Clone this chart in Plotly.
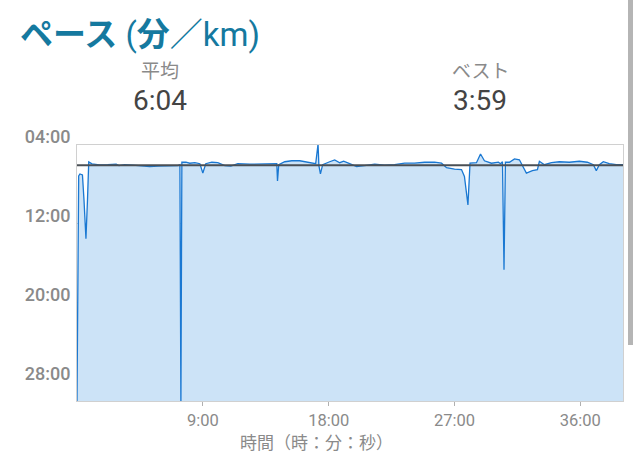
import plotly.graph_objects as go

# elapsed time (minutes) and pace (minutes per km)
time_min = [0.0, 0.12, 0.21, 0.39, 0.5, 0.64, 0.75, 0.84, 1.07, 1.6, 2.2, 2.8, 3.0, 3.4, 4.0, 4.6,
            5.2, 5.8, 6.4, 7.0, 7.21, 7.36, 7.43, 7.5, 7.79, 8.07, 8.43, 8.79, 9.0, 9.21, 9.64,
            10.07, 10.57, 11.0, 11.5, 12.36, 13.21, 14.14, 14.29, 14.34, 14.43, 14.86, 15.36,
            15.93, 16.64, 17.07, 17.24, 17.3, 17.41, 17.57, 18.07, 18.43, 18.79, 19.07, 19.5,
            20.0, 20.57, 21.29, 22.0, 22.71, 23.43, 24.14, 24.86, 25.57, 26.07, 26.43, 27.0,
            27.5, 27.71, 27.96, 28.11, 28.57, 28.86, 29.14, 29.64, 30.14, 30.29, 30.43, 30.54,
            30.64, 30.93, 31.29, 31.64, 32.14, 32.57, 32.93, 33.07, 33.43, 33.93, 34.5, 35.21,
            35.93, 36.5, 36.93, 37.14, 37.36, 37.64, 38.07, 38.57, 39.05]
pace_min = [30.0, 7.14, 6.94, 7.04, 9.57, 13.52, 9.57, 5.72, 5.92, 6.02, 6.0, 5.95, 6.1, 6.0, 6.05, 6.1,
            6.2, 6.15, 6.1, 6.05, 6.1, 6.0, 30.5, 5.75, 5.75, 5.85, 5.8, 5.9, 6.84, 5.9, 5.75,
            5.8, 6.1, 6.15, 5.9, 5.95, 5.9, 5.85, 5.9, 7.65, 6.0, 5.7, 5.6,
            5.6, 5.75, 5.9, 3.9, 6.1, 6.94, 6.0, 5.7, 5.52, 5.8, 5.65, 5.9,
            6.2, 6.1, 5.95, 6.05, 6.0, 5.85, 5.85, 5.75, 5.75, 5.85, 6.3, 6.45,
            6.5, 7.2, 10.08, 5.85, 5.8, 4.91, 5.6, 5.85, 5.75, 5.9, 5.7, 16.66,
            5.75, 5.75, 5.42, 5.5, 6.85, 6.6, 6.5, 5.65, 6.0, 5.8, 5.7, 5.75,
            5.65, 5.75, 6.0, 6.6, 6.0, 5.7, 5.9, 6.0, 6.0]

avg_pace = 6 + 4 / 60
avg_label = "6:04"
best_label = "3:59"

y_tickvals = [4, 12, 20, 28]
y_ticktext = ["04:00", "12:00", "20:00", "28:00"]
x_tickvals = [9, 18, 27, 36]
x_ticktext = ["9:00", "18:00", "27:00", "36:00"]

y_bottom = 30
x_end = 39.05

GREY = "#8a8a8a"
fig = go.Figure()
fig.add_trace(go.Scatter(x=[0, x_end], y=[y_bottom, y_bottom], mode="lines",
                         line=dict(width=0), hoverinfo="skip", showlegend=False))
fig.add_trace(go.Scatter(x=time_min, y=pace_min, mode="lines", fill="tonexty",
                         fillcolor="#cce3f7", line=dict(color="#1a78d2", width=1.3),
                         showlegend=False))
fig.add_trace(go.Scatter(x=[0, x_end], y=[avg_pace, avg_pace], mode="lines",
                         line=dict(color="#4a4f55", width=2), showlegend=False))

fig.update_layout(
    width=640, height=471,
    margin=dict(l=77, r=17, t=145, b=70),
    paper_bgcolor="white", plot_bgcolor="white",
    font=dict(family="Roboto, 'Noto Sans CJK JP', sans-serif", color=GREY),
    xaxis=dict(range=[0, x_end], tickvals=x_tickvals, ticktext=x_ticktext,
               showgrid=False, zeroline=False, showline=True, linecolor="#d0d0d0",
               mirror=True, ticks="outside", ticklen=4, tickcolor="#b0b0b0",
               tickfont=dict(size=16.5, color=GREY)),
    yaxis=dict(range=[y_bottom, 4], tickvals=y_tickvals, ticktext=y_ticktext,
               showgrid=True, gridcolor="#d6d6d6", zeroline=False, showline=True,
               linecolor="#d0d0d0", mirror=True, ticks="", ticklabelstandoff=2,
               ticklabelshift=8,
               tickfont=dict(size=18, color=GREY, weight=500)),
)

def px_x(px):
    return (px - 77) / 546

def px_y(py):
    return (401 - py) / 256

fig.add_annotation(x=px_x(18), y=px_y(34), xref="paper", yref="paper", xanchor="left",
                   yanchor="middle", showarrow=False,
                   text="<b>ペース</b> (<b>分</b>／km)",
                   font=dict(size=33, color="#15799f",
                             family="Roboto, 'Noto Sans CJK JP', sans-serif"))
for cx, lab, val in [(160, "平均", avg_label), (480, "ベスト", best_label)]:
    fig.add_annotation(x=px_x(cx), y=px_y(69), xref="paper", yref="paper",
                       xanchor="center", yanchor="middle", showarrow=False, text=lab,
                       font=dict(size=19, color=GREY,
                                 family="'Noto Sans CJK JP', sans-serif"))
    fig.add_annotation(x=px_x(cx), y=px_y(100), xref="paper", yref="paper",
                       xanchor="center", yanchor="middle", showarrow=False, text=val,
                       font=dict(size=28, color="#444444", family="Roboto, sans-serif"))

fig.add_annotation(x=px_x(316), y=px_y(441), xref="paper", yref="paper",
                   xanchor="center", yanchor="middle", showarrow=False,
                   text="時間（時：分：秒）",
                   font=dict(size=17, color=GREY, family="'Noto Sans CJK JP', sans-serif"))

fig.add_shape(type="rect", xref="paper", yref="paper",
              x0=px_x(628), x1=px_x(633), y0=px_y(345), y1=px_y(0),
              fillcolor="#b5b5b5", line=dict(width=0))

fig.write_html("out.html", config={"displayModeBar": False},
               post_script="document.body.style.margin='0';")
